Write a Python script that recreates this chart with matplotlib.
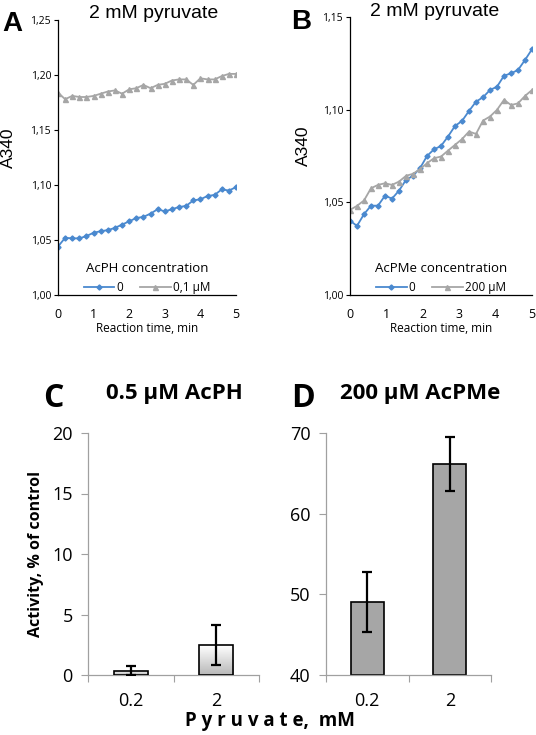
import numpy as np
import matplotlib
matplotlib.use("Agg")
from matplotlib import pyplot as plt

# ---- data ----
time_a = [0.0, 0.2, 0.4, 0.6, 0.8, 1.0, 1.2, 1.4, 1.6, 1.8, 2.0, 2.2, 2.4,
          2.6, 2.8, 3.0, 3.2, 3.4, 3.6, 3.8, 4.0, 4.2, 4.4, 4.6, 4.8, 5.0]
a_control = [1.044, 1.052, 1.0515, 1.0515, 1.0536, 1.0566, 1.058, 1.059, 1.061,
             1.064, 1.067, 1.070, 1.071, 1.074, 1.078, 1.076, 1.078, 1.080,
             1.081, 1.086, 1.087, 1.090, 1.091, 1.096, 1.095, 1.098]
a_acph = [1.184, 1.178, 1.181, 1.180, 1.180, 1.181, 1.183, 1.185, 1.186, 1.183,
          1.187, 1.188, 1.191, 1.188, 1.191, 1.192, 1.195, 1.196, 1.196, 1.191,
          1.197, 1.196, 1.196, 1.199, 1.201, 1.201]

time_b = np.linspace(0, 5, 27)
b_control = [1.0401, 1.0373, 1.0436, 1.0482, 1.0482, 1.0536, 1.0520, 1.0563,
             1.0621, 1.0643, 1.0684, 1.0750, 1.0786, 1.0804, 1.0855, 1.0912,
             1.0939, 1.0993, 1.1043, 1.1067, 1.1106, 1.1124, 1.1183, 1.1196,
             1.1214, 1.1268, 1.1326]
b_acpme = [1.0459, 1.0481, 1.0510, 1.0576, 1.0594, 1.0603, 1.0594, 1.0612,
           1.0643, 1.0654, 1.0679, 1.0711, 1.0738, 1.0747, 1.0779, 1.0810,
           1.0841, 1.0882, 1.0869, 1.0941, 1.0963, 1.0999, 1.1053, 1.1025,
           1.1034, 1.1074, 1.1106]

pyruvate = ["0.2", "2"]
c_activity = [0.35, 2.45]
c_err_low = [0.35, 1.6]
c_err_high = [0.4, 1.65]
d_activity = [49.0, 66.2]
d_err_low = [3.7, 3.4]
d_err_high = [3.8, 3.3]

BLUE = "#4a89cf"
GRAY = "#a6a6a6"
ARIAL = "Liberation Sans"
CALIBRI = "Open Sans"

fig = plt.figure(figsize=(5.36, 7.35), dpi=100)
W, H = 536.0, 735.0


def px_axes(left, top, right, bottom):
    return fig.add_axes([left / W, 1 - bottom / H, (right - left) / W, (bottom - top) / H])


def fmt_comma(v, pos=None):
    return ("%.2f" % v).replace(".", ",")


def line_panel(ax, t, ctrl, treat, ylim, yticks, legend_title, treat_label):
    ax.plot(t, ctrl, color=BLUE, marker="D", markersize=2.6, lw=1.3, label="0")
    ax.plot(t, treat, color=GRAY, marker="^", markersize=3.6, lw=1.3, label=treat_label)
    ax.set_xlim(0, 5)
    ax.set_ylim(*ylim)
    ax.set_yticks(yticks)
    ax.set_yticklabels([fmt_comma(v) for v in yticks], family=CALIBRI, fontsize=7.5)
    ax.set_xticks(range(6))
    ax.set_xticklabels([str(i) for i in range(6)], family=CALIBRI, fontsize=9)
    ax.tick_params(axis="x", length=0, pad=9)
    ax.tick_params(axis="y", length=3, width=0.8, direction="out", pad=2)
    for s in ("top", "right"):
        ax.spines[s].set_visible(False)
    for s in ("left", "bottom"):
        ax.spines[s].set_color("black")
        ax.spines[s].set_linewidth(0.9)
    ax.set_xlabel("Reaction time, min", family=CALIBRI, fontsize=8.5, labelpad=1)
    ax.set_ylabel("A340", family=ARIAL, fontsize=12.5)
    leg = ax.legend(loc="lower center", bbox_to_anchor=(0.5, -0.035), ncol=2, frameon=False,
                    title=legend_title, handlelength=2.6, columnspacing=1.4,
                    handletextpad=0.2, prop={"family": CALIBRI, "size": 8.5})
    leg.get_title().set_family(CALIBRI)
    leg.get_title().set_fontsize(9.5)


# ---- panel A ----
ax_a = px_axes(58, 20, 236, 295)
line_panel(ax_a, time_a, a_control, a_acph, (1.0, 1.25),
           [1.00, 1.05, 1.10, 1.15, 1.20, 1.25], "AcPH concentration", "0,1 \u00b5M")
ax_a.yaxis.set_label_coords(-0.235, 0.535)

# ---- panel B ----
ax_b = px_axes(350, 17, 532, 295)
line_panel(ax_b, time_b, b_control, b_acpme, (1.0, 1.15),
           [1.00, 1.05, 1.10, 1.15], "AcPMe concentration", "200 \u00b5M")
ax_b.yaxis.set_label_coords(-0.215, 0.536)

fig.text(154 / W, 1 - 13 / H, "2 mM pyruvate", family=ARIAL, fontsize=14,
         ha="center", va="center")
fig.text(435 / W, 1 - 12 / H, "2 mM pyruvate", family=ARIAL, fontsize=14,
         ha="center", va="center")
fig.text(2 / W, 1 - 24 / H, "A", family=ARIAL, fontsize=20, weight="bold", va="center")
fig.text(291 / W, 1 - 22 / H, "B", family=ARIAL, fontsize=20, weight="bold", va="center")


def bar_panel(ax, vals, lo, hi, ylim, yticks, color, gradient=False):
    x = np.arange(len(vals))
    bars = ax.bar(x, vals, width=0.4, color=color, edgecolor="black", linewidth=1.2, zorder=2)
    if ylim[0] != 0:
        for b, v in zip(bars, vals):
            b.set_y(ylim[0])
            b.set_height(v - ylim[0])
    if gradient:
        grad = np.linspace(0.72, 1.0, 100).reshape(-1, 1)
        for b in bars:
            bx, by = b.get_x(), b.get_y()
            im = ax.imshow(grad, cmap="gray", vmin=0, vmax=1, aspect="auto",
                           extent=(bx, bx + b.get_width(), by + b.get_height(), by),
                           origin="upper", zorder=2.5)
            im.set_clip_path(b)
            b.set_facecolor("none")
            b.set_zorder(3)
    ax.errorbar(x, vals, yerr=[lo, hi], fmt="none", ecolor="black", elinewidth=1.6,
                capsize=3.5, capthick=1.6, zorder=4)
    ax.set_xlim(-0.5, 1.5)
    ax.set_ylim(*ylim)
    ax.set_yticks(yticks)
    ax.set_yticklabels([str(v) for v in yticks], family=CALIBRI, fontsize=13)
    ax.set_xticks(x)
    ax.set_xticklabels(pyruvate, family=CALIBRI, fontsize=13)
    ax.set_xticks([-0.5, 0.5, 1.5], minor=True)
    ax.tick_params(axis="x", which="major", length=0, pad=12)
    ax.tick_params(axis="x", which="minor", length=5, color="#a0a0a0", width=0.8)
    ax.tick_params(axis="y", length=5, color="#a0a0a0", width=0.8, pad=6)
    for s in ("top", "right"):
        ax.spines[s].set_visible(False)
    for s in ("left", "bottom"):
        ax.spines[s].set_color("#a0a0a0")
        ax.spines[s].set_linewidth(0.9)


# ---- panel C ----
ax_c = px_axes(88, 433, 259, 675)
bar_panel(ax_c, c_activity, c_err_low, c_err_high, (0, 20), [0, 5, 10, 15, 20], "white",
          gradient=True)
ax_c.set_ylabel("Activity, % of control", family=CALIBRI, fontsize=11.5, weight="bold",
                labelpad=6)

# ---- panel D ----
ax_d = px_axes(326, 433, 491, 675)
bar_panel(ax_d, d_activity, d_err_low, d_err_high, (40, 70), [40, 50, 60, 70], GRAY)

fig.text(174 / W, 1 - 394 / H, "0.5 \u00b5M AcPH", family=CALIBRI, fontsize=16,
         weight="bold", ha="center", va="center")
fig.text(420 / W, 1 - 394 / H, "200 \u00b5M AcPMe", family=CALIBRI, fontsize=16,
         weight="bold", ha="center", va="center")
fig.text(43 / W, 1 - 399 / H, "C", family=CALIBRI, fontsize=23, weight="bold", va="center")
fig.text(291 / W, 1 - 399 / H, "D", family=CALIBRI, fontsize=23, weight="bold", va="center")

fig.text(270 / W, 1 - 721 / H, "P y r u v a t e,  mM", family=CALIBRI, fontsize=13.5,
         weight="bold", ha="center", va="center")

fig.savefig("out.png", dpi=100)
